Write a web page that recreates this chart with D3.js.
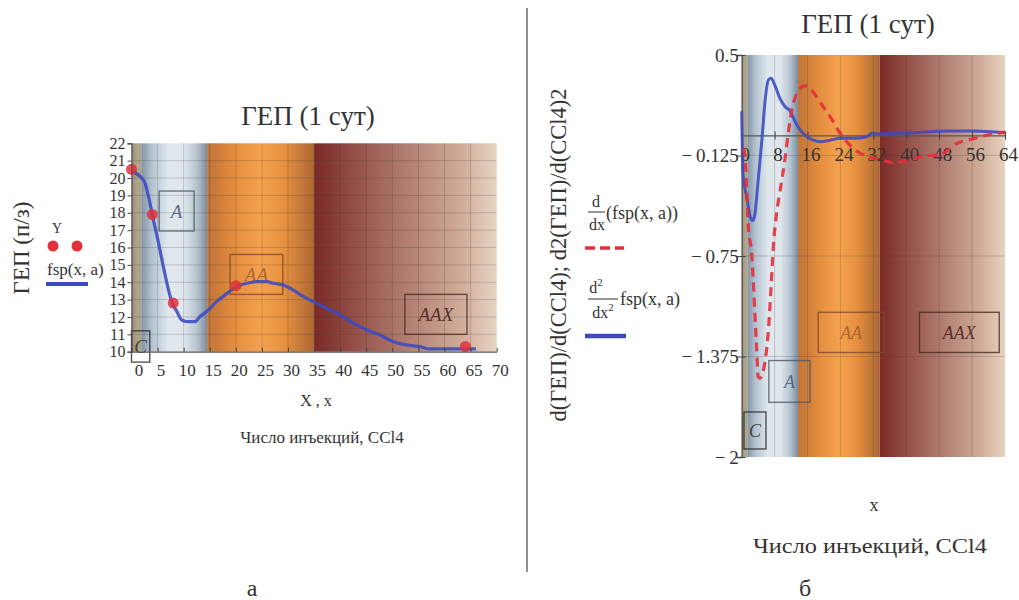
<!DOCTYPE html>
<html>
<head>
<meta charset="utf-8">
<script src="https://cdn.jsdelivr.net/npm/d3@7"></script>
<style>
  body { margin: 0; background: #fff; }
  svg { display: block; }
  text { font-family: "Liberation Serif", "DejaVu Serif", serif; fill: #333; }
</style>
</head>
<body>
<svg id="chart" width="1019" height="600"></svg>
<script>
// ---- panel (a): fitted curve fsp(x, a) and observed points Y ----
const fspX = [0, 1.7, 2.6, 3.4, 4.2, 5.2, 6.1, 7.1, 7.7, 8.7, 9.6, 10.6, 12.2, 13.1, 14.4, 16.3, 18.3, 20.2, 22.1, 24.0, 25.9, 27.2, 29.1, 31.0, 33.0, 34.9, 37.4, 40.0, 42.5, 45.1, 47.6, 50.2, 52.7, 55.3, 57.2, 61.0, 66.0];
const fspY = [20.37, 20.08, 19.70, 18.74, 17.58, 16.24, 14.90, 13.55, 12.88, 12.31, 11.83, 11.73, 11.73, 12.02, 12.31, 12.88, 13.36, 13.75, 13.94, 14.03, 14.03, 13.94, 13.84, 13.55, 13.17, 12.88, 12.50, 12.12, 11.64, 11.25, 10.96, 10.58, 10.39, 10.29, 10.16, 10.16, 10.16];
const obsX = [0, 4, 8, 20, 64];
const obsY = [20.5, 17.9, 12.8, 13.8, 10.3];
const leftXTicks = [0, 5, 10, 15, 20, 25, 30, 35, 40, 45, 50, 55, 60, 65, 70];
const leftYTicks = [10, 11, 12, 13, 14, 15, 16, 17, 18, 19, 20, 21, 22];

// ---- panel (б): first and second derivatives of fsp(x, a) ----
const d1X = [0.4, 0.8, 1.2, 1.6, 2.4, 2.8, 3.2, 3.6, 4.0, 4.45, 5.7, 6.5, 7.1, 7.7, 8.5, 9.3, 10.5, 11.3, 12.2, 13.4, 15.4, 17.0, 19.5, 21.9, 23.5, 25.9, 27.6, 30.4, 33.6, 36.9, 40.1, 44.2, 48.2, 52.3, 56.4, 61.2, 64.0];
const d1Y = [-0.08, -0.13, -0.34, -0.57, -0.73, -0.90, -1.11, -1.31, -1.50, -1.51, -1.40, -1.21, -0.96, -0.69, -0.48, -0.35, -0.15, 0.01, 0.16, 0.26, 0.31, 0.28, 0.19, 0.10, 0.03, -0.05, -0.09, -0.13, -0.15, -0.17, -0.16, -0.13, -0.12, -0.05, -0.02, 0.01, 0.02];
const d2X = [0, 0.3, 1.2, 2.0, 2.7, 3.2, 4.0, 4.9, 5.7, 6.5, 7.1, 8.1, 9.3, 10.5, 11.8, 13.0, 14.2, 15.8, 17.4, 19.1, 21.5, 23.9, 27.2, 30.4, 31.6, 33.6, 37.7, 41.8, 45.8, 49.9, 56.4, 64.0];
const d2Y = [0.15, -0.24, -0.38, -0.50, -0.53, -0.49, -0.28, -0.03, 0.22, 0.345, 0.355, 0.31, 0.23, 0.18, 0.15, 0.085, 0.034, -0.008, -0.03, -0.04, -0.03, -0.018, -0.018, -0.008, 0.013, 0.009, 0.013, 0.017, 0.023, 0.027, 0.027, 0.017];
const rightXTicks = [0, 8, 16, 24, 32, 40, 48, 56, 64];
const rightYTicks = [0.5, -0.125, -0.75, -1.375, -2];

// ---- stages of the process shown as background zones ----
const zoneNames = ["C", "A", "AA", "AAX"];
const leftZoneEdges = [0, 2, 14.5, 35, 70];
const rightZoneEdges = [0, 1.5, 13.7, 33.5, 64];

// ---------------------------------------------------------------
const SERIF = "'Liberation Serif', 'DejaVu Serif', serif";
const svg = d3.select("#chart");
const defs = svg.append("defs");

function label(x, y, str, size, anchor) {
  return svg.append("text").attr("x", x).attr("y", y)
    .attr("text-anchor", anchor || "middle")
    .style("font-family", SERIF).style("font-size", size + "px")
    .text(str);
}

// gradient look of every zone
const zoneStops = {
  C:   [[0, "#9c8e74"], [0.6, "#b0a58c"], [1, "#a4a398"]],
  A:   [[0, "#8596a8"], [0.15, "#b3c2cf"], [0.4, "#e0e8ee"], [0.65, "#dfe7ed"], [0.85, "#b4c2ce"], [1, "#7a8b9d"]],
  AA:  [[0, "#be7338"], [0.25, "#e38c3e"], [0.5, "#f4a24f"], [0.72, "#e6903f"], [1, "#ad6833"]],
  AAX: [[0, "#7a2926"], [0.2, "#924c45"], [0.5, "#b07d70"], [0.8, "#cfab98"], [1, "#e8d3c1"]]
};
zoneNames.forEach(n => {
  const g = defs.append("linearGradient").attr("id", "zone-" + n)
    .attr("x1", "0%").attr("x2", "100%").attr("y1", "0%").attr("y2", "0%");
  zoneStops[n].forEach(s => g.append("stop").attr("offset", s[0]).attr("stop-color", s[1]));
});

const zoneText = { C: "#3b321f", A: "#4d5d79", AA: "#a55f2c", AAX: "#4d231b" };
const zoneBox  = { C: "#2a2a2a", A: "#4b5866", AA: "#7b4a30", AAX: "#4a2a22" };

function drawZones(g, x, y, edges, y0, y1) {
  g.append("g").selectAll("rect").data(zoneNames).join("rect")
    .attr("x", (d, i) => x(edges[i]))
    .attr("width", (d, i) => x(edges[i + 1]) - x(edges[i]))
    .attr("y", y(y1)).attr("height", y(y0) - y(y1))
    .attr("fill", d => "url(#zone-" + d + ")");
}

function drawGrid(g, x, y, xs, ys, xDom, yDom) {
  const gg = g.append("g").attr("stroke", "rgba(70,55,50,0.22)").attr("stroke-width", 1);
  gg.selectAll(".v").data(xs).join("line")
    .attr("x1", d => x(d)).attr("x2", d => x(d))
    .attr("y1", y(yDom[0])).attr("y2", y(yDom[1]));
  gg.selectAll(".h").data(ys).join("line")
    .attr("y1", d => y(d)).attr("y2", d => y(d))
    .attr("x1", x(xDom[0])).attr("x2", x(xDom[1]));
}

function drawBoxes(g, x, y, boxes, size) {
  boxes.forEach(b => {
    g.append("rect")
      .attr("x", x(b.x0)).attr("y", y(b.y1))
      .attr("width", x(b.x1) - x(b.x0)).attr("height", y(b.y0) - y(b.y1))
      .attr("fill", "none").attr("stroke", zoneBox[b.name])
      .attr("stroke-opacity", 0.8).attr("stroke-width", 1.4);
    g.append("text")
      .attr("x", (x(b.x0) + x(b.x1)) / 2).attr("y", (y(b.y0) + y(b.y1)) / 2)
      .attr("dy", "0.35em").attr("text-anchor", "middle")
      .style("font-family", SERIF).style("font-style", "italic").style("font-size", size + "px")
      .style("fill", zoneText[b.name]).attr("fill-opacity", 0.9)
      .text(b.name);
  });
}

function styleAxis(a, size) {
  a.attr("font-family", null).attr("font-size", null);
  a.select(".domain").attr("stroke", "#555").attr("stroke-width", 1.3);
  a.selectAll(".tick line").attr("stroke", "#444");
  a.selectAll("text").style("font-family", SERIF).style("font-size", size + "px").style("fill", "#333");
}

// ================= panel (a) =================
const xL = d3.scaleLinear().domain([0, 70]).range([131.5, 496.7]);
const yL = d3.scaleLinear().domain([10, 22]).range([351.7, 143.3]);
const gL = svg.append("g");

drawZones(gL, xL, yL, leftZoneEdges, 10, 22);
drawGrid(gL, xL, yL, leftXTicks.slice(1, -1), leftYTicks.slice(1, -1), [0, 70], [10, 22]);
drawBoxes(gL, xL, yL, [
  { name: "C",   x0: 0,    x1: 3.5,  y0: 9.4,  y1: 11.2 },
  { name: "A",   x0: 5.3,  x1: 12.0, y0: 16.95, y1: 19.25 },
  { name: "AA",  x0: 18.9, x1: 29.0, y0: 13.3, y1: 15.6 },
  { name: "AAX", x0: 52.4, x1: 64.3, y0: 11.0, y1: 13.3 }
], 19);

const lineL = d3.line().x(d => xL(d[0])).y(d => yL(d[1])).curve(d3.curveMonotoneX);
gL.append("path").datum(d3.zip(fspX, fspY))
  .attr("d", lineL).attr("fill", "none")
  .attr("stroke", "#3a4bc2").attr("stroke-opacity", 0.88).attr("stroke-width", 3.2)
  .attr("stroke-linejoin", "round");
gL.append("g").selectAll("circle").data(d3.zip(obsX, obsY)).join("circle")
  .attr("cx", d => xL(d[0])).attr("cy", d => yL(d[1])).attr("r", 5.5)
  .attr("fill", "#e2303a").attr("fill-opacity", 0.85);

const axL = gL.append("g").attr("transform", `translate(${xL(0)},0)`)
  .call(d3.axisLeft(yL).tickValues(leftYTicks).tickSize(4).tickPadding(2).tickFormat(d3.format("d")));
const axB = gL.append("g").attr("transform", `translate(0,${yL(10)})`)
  .call(d3.axisBottom(xL).tickValues(leftXTicks).tickSizeInner(-4).tickSizeOuter(0).tickPadding(12).tickFormat(d3.format("d")));
styleAxis(axL, 16);
styleAxis(axB, 17);
axB.selectAll(".tick text").attr("dx", d => d === 0 ? 7 : 3);

// titles and legend of panel (a)
label(308, 125, "ГЕП (1 сут)", 27);
label(316, 406, "X , x", 16);
label(322, 443, "Число инъекций, CCl4", 17);
svg.append("text").attr("transform", "translate(29,248) rotate(-90)").attr("text-anchor", "middle")
  .style("font-family", SERIF).style("font-size", "23px").text("ГЕП  (п/з)");
label(57, 233, "Y", 14);
svg.append("g").selectAll("circle").data([53, 77]).join("circle")
  .attr("cx", d => d).attr("cy", 246).attr("r", 5.5).attr("fill", "#e2303a");
label(47, 275, "fsp(x, a)", 17, "start");
svg.append("line").attr("x1", 46).attr("x2", 88).attr("y1", 284).attr("y2", 284)
  .attr("stroke", "#3a4bc2").attr("stroke-width", 4);
label(252, 596, "а", 24);

// separator between the panels
svg.append("line").attr("x1", 527).attr("x2", 527).attr("y1", 8).attr("y2", 572)
  .attr("stroke", "#222").attr("stroke-width", 1);

// ================= panel (б) =================
const xR = d3.scaleLinear().domain([0, 64]).range([741.7, 1005]);
const yR = d3.scaleLinear().domain([-2, 0.5]).range([457, 55]);
const gR = svg.append("g");

drawZones(gR, xR, yR, rightZoneEdges, -2, 0.5);
drawGrid(gR, xR, yR, rightXTicks.slice(1, -1), rightYTicks.slice(1, -1), [0, 64], [-2, 0.5]);
drawBoxes(gR, xR, yR, [
  { name: "C",   x0: 0.55, x1: 5.9,  y0: -1.95, y1: -1.72 },
  { name: "A",   x0: 6.6,  x1: 16.6, y0: -1.66, y1: -1.40 },
  { name: "AA",  x0: 18.6, x1: 34.6, y0: -1.35, y1: -1.10 },
  { name: "AAX", x0: 43.2, x1: 62.6, y0: -1.35, y1: -1.10 }
], 18);

// x axis sits on y = 0, ticks cross it
const axRB = gR.append("g").attr("transform", `translate(0,${yR(0)})`)
  .call(d3.axisBottom(xR).tickValues(rightXTicks).tickSizeInner(4).tickSizeOuter(0).tickPadding(8).tickFormat(d3.format("d")));
axRB.selectAll(".tick line").attr("y1", -4);
const axRL = gR.append("g").attr("transform", `translate(${xR(0)},0)`)
  .call(d3.axisLeft(yR).tickValues(rightYTicks).tickSize(5).tickPadding(-2)
    .tickFormat(d => d < 0 ? "\u2212\u2009" + Math.abs(d) : String(d)));
axRL.selectAll(".tick line").attr("x2", 4).attr("x1", -5);
styleAxis(axRB, 19);
styleAxis(axRL, 19);
axRB.selectAll(".tick text").attr("dx", 3);

const lineR = d3.line().x(d => xR(d[0])).y(d => yR(d[1])).curve(d3.curveMonotoneX);
gR.append("path").datum(d3.zip(d2X, d2Y))
  .attr("d", lineR).attr("fill", "none")
  .attr("stroke", "#3a4bc2").attr("stroke-opacity", 0.88).attr("stroke-width", 3)
  .attr("stroke-linejoin", "round");
gR.append("path").datum(d3.zip(d1X, d1Y))
  .attr("d", lineR).attr("fill", "none")
  .attr("stroke", "#e3303c").attr("stroke-opacity", 0.9).attr("stroke-width", 3.2)
  .attr("stroke-dasharray", "9,6");

// titles and legend of panel (б)
label(868, 33, "ГЕП (1 сут)", 27);
label(874, 511, "x", 18);
label(870, 553, "Число инъекций, CCl4", 20)
  .attr("textLength", 234).attr("lengthAdjust", "spacingAndGlyphs");
svg.append("text").attr("transform", "translate(566,255) rotate(-90)").attr("text-anchor", "middle")
  .style("font-family", SERIF).style("font-size", "22.5px").text("d(ГЕП)/d(CCl4);  d2(ГЕП)/d(CCl4)2");
label(805, 596, "б", 24);

label(596, 207, "d", 16);
svg.append("line").attr("x1", 588).attr("x2", 605).attr("y1", 212).attr("y2", 212).attr("stroke", "#333").attr("stroke-width", 1);
label(597, 230, "dx", 16);
label(606, 219, "(fsp(x, a))", 18, "start");
svg.append("line").attr("x1", 585).attr("x2", 624).attr("y1", 248).attr("y2", 248)
  .attr("stroke", "#e3303c").attr("stroke-width", 3.5).attr("stroke-dasharray", "10,5");

const n2 = label(596, 293, "", 16);
n2.append("tspan").text("d");
n2.append("tspan").style("font-size", "11px").attr("dy", -7).text("2");
svg.append("line").attr("x1", 588).attr("x2", 618).attr("y1", 299).attr("y2", 299).attr("stroke", "#333").attr("stroke-width", 1);
const d2t = label(603, 318, "", 16);
d2t.append("tspan").text("dx");
d2t.append("tspan").style("font-size", "11px").attr("dy", -7).text("2");
label(620, 305, "fsp(x, a)", 18, "start");
svg.append("line").attr("x1", 585).attr("x2", 626).attr("y1", 336).attr("y2", 336)
  .attr("stroke", "#3a4bc2").attr("stroke-width", 4.5);
</script>
</body>
</html>
